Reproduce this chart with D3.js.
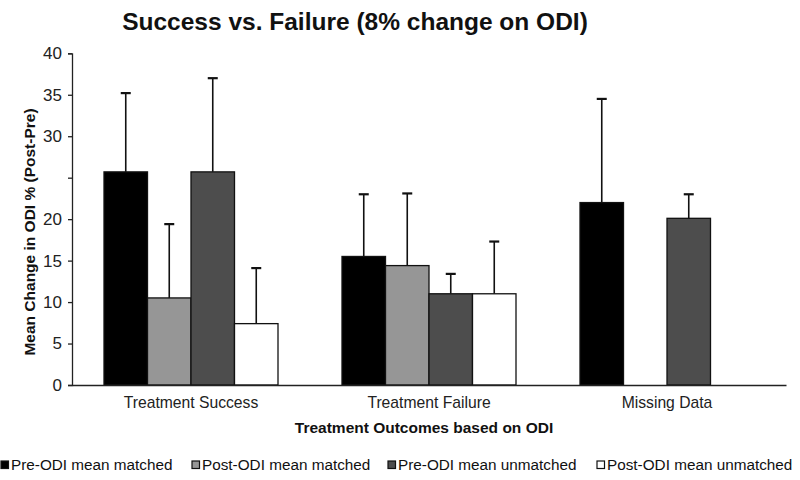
<!DOCTYPE html>
<html>
<head>
<meta charset="utf-8">
<script src="https://cdn.jsdelivr.net/npm/d3@7"></script>
<style>
  html, body { margin: 0; padding: 0; background: #fff; }
  svg { display: block; font-family: "Liberation Sans", Arial, sans-serif; }
</style>
</head>
<body>
<svg id="chart" width="800" height="480"></svg>
<script>
const categories = ["Treatment Success", "Treatment Failure", "Missing Data"];
const seriesNames = ["Pre-ODI mean matched", "Post-ODI mean matched", "Pre-ODI mean unmatched", "Post-ODI mean unmatched"];
const seriesColors = ["#000000", "#969696", "#4d4d4d", "#ffffff"];
const preMatched = [25.7, 15.5, 22.0];
const preMatchedErr = [9.5, 7.5, 12.5];
const postMatched = [10.5, 14.4, null];
const postMatchedErr = [8.9, 8.7, null];
const preUnmatched = [25.7, 11.0, 20.1];
const preUnmatchedErr = [11.3, 2.4, 2.9];
const postUnmatched = [7.4, 11.0, null];
const postUnmatchedErr = [6.7, 6.3, null];
const yTicks = [0, 5, 10, 15, 20, 25, 30, 35, 40];
const yTickLabels = ["0", "5", "10", "15", "20", "", "30", "35", "40"];

(function () {
const values = [preMatched, postMatched, preUnmatched, postUnmatched];
const errors = [preMatchedErr, postMatchedErr, preUnmatchedErr, postUnmatchedErr];

const svg = d3.select("#chart");
const plotLeft = 72, plotRight = 786, plotTop = 53.3, plotBottom = 385;

const x0 = d3.scaleBand().domain(categories).range([plotLeft, plotRight]).padding(0);
const x1 = d3.scaleBand().domain(d3.range(seriesNames.length)).range([32, x0.bandwidth() - 32]).padding(0);
const y = d3.scaleLinear().domain([0, 40]).range([plotBottom, plotTop]);

const rows = [];
categories.forEach((c, ci) => {
  values.forEach((vals, si) => {
    if (vals[ci] != null) rows.push({ c, si, v: vals[ci], e: errors[si][ci] });
  });
});

// Error bars (upper only)
const eg = svg.append("g");
rows.forEach(d => {
  const cx = x0(d.c) + x1(d.si) + x1.bandwidth() / 2;
  eg.append("line").attr("x1", cx).attr("x2", cx)
    .attr("y1", y(d.v)).attr("y2", y(d.v + d.e))
    .attr("stroke", "#111").attr("stroke-width", 1.6);
  eg.append("line").attr("x1", cx - 5).attr("x2", cx + 5)
    .attr("y1", y(d.v + d.e)).attr("y2", y(d.v + d.e))
    .attr("stroke", "#111").attr("stroke-width", 2.2);
});

svg.append("g").selectAll("rect").data(rows).join("rect")
  .attr("x", d => x0(d.c) + x1(d.si))
  .attr("y", d => y(d.v))
  .attr("width", x1.bandwidth())
  .attr("height", d => y(0) - y(d.v))
  .attr("fill", d => seriesColors[d.si])
  .attr("stroke", "#111")
  .attr("stroke-width", 1.3);

// Y axis
const yAxis = d3.axisLeft(y).tickValues(yTicks)
  .tickFormat((d, i) => yTickLabels[i]).tickSize(4).tickPadding(6);
const yg = svg.append("g").attr("transform", `translate(${plotLeft},0)`).call(yAxis);
yg.select(".domain").attr("stroke", "#222").attr("stroke-width", 1.3);
yg.selectAll(".tick line").attr("stroke", "#222").attr("stroke-width", 1.3);
yg.selectAll(".tick text").attr("font-size", 17).attr("fill", "#222")
  .attr("font-family", "Liberation Sans, Arial, sans-serif");

// X axis
const xAxis = d3.axisBottom(x0).tickSize(0).tickPadding(12);
const xg = svg.append("g").attr("transform", `translate(0,${plotBottom})`).call(xAxis);
xg.select(".domain").attr("stroke", "#222").attr("stroke-width", 1.3);
xg.selectAll(".tick text").attr("font-size", 15.7).attr("fill", "#222")
  .attr("font-family", "Liberation Sans, Arial, sans-serif");

// Title
svg.append("text").attr("x", 355).attr("y", 30).attr("text-anchor", "middle")
  .attr("font-size", 24.5).attr("font-weight", "bold").attr("fill", "#111")
  .text("Success vs. Failure (8% change on ODI)");

// Axis titles
svg.append("text").attr("x", 424).attr("y", 433).attr("text-anchor", "middle")
  .attr("font-size", 15.5).attr("font-weight", "bold").attr("fill", "#111")
  .text("Treatment Outcomes based on ODI");
svg.append("text").attr("transform", "translate(35,232) rotate(-90)")
  .attr("text-anchor", "middle")
  .attr("font-size", 15.5).attr("font-weight", "bold").attr("fill", "#111")
  .text("Mean Change in ODI % (Post-Pre)");

// Legend
const legendX = [1, 192, 388, 597];
const lg = svg.append("g");
seriesNames.forEach((name, i) => {
  lg.append("rect").attr("x", legendX[i]).attr("y", 461).attr("width", 7.5).attr("height", 7.5)
    .attr("fill", seriesColors[i]).attr("stroke", "#111").attr("stroke-width", 1.2);
  lg.append("text").attr("x", legendX[i] + 10).attr("y", 470)
    .attr("font-size", 15.3).attr("fill", "#111").text(name);
});
})();
</script>
</body>
</html>
